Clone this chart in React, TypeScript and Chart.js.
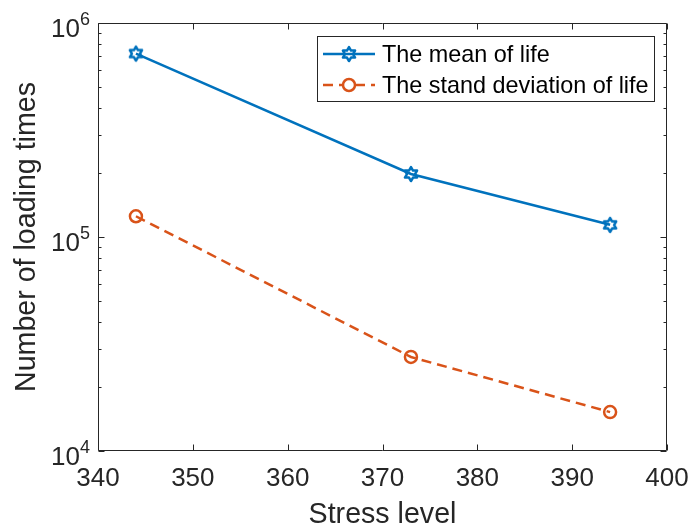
import React, { useEffect, useRef } from "react";
import { Chart, registerables } from "chart.js";

Chart.register(...registerables);

const X_VALUES = [344, 373, 394];
const MEAN_LIFE = [7.2e5, 1.97e5, 1.14e5];
const STD_LIFE = [1.25e5, 2.75e4, 1.52e4];
const SERIES_LABELS = ["The mean of life", "The stand deviation of life"];
const X_TICKS = [340, 350, 360, 370, 380, 390, 400];
const Y_MAJOR = [1e4, 1e5, 1e6];
const Y_EXPONENTS = ["4", "5", "6"];
const X_TITLE = "Stress level";
const Y_TITLE = "Number of loading times";

const BLUE = "#0072BD";
const ORANGE = "#D95319";
const AXIS = "#262626";
const FONT = '"Liberation Sans", Arial, Helvetica, sans-serif';
const DASH = [10, 6];
const LW = 2.5;

function drawHexagram(ctx: CanvasRenderingContext2D, cx: number, cy: number, r: number, color: string) {
  const ri = r / Math.sqrt(3);
  ctx.save();
  ctx.beginPath();
  for (let i = 0; i < 12; i++) {
    const a = -Math.PI / 2 + (i * Math.PI) / 6;
    const rr = i % 2 === 0 ? r : ri;
    const px = cx + rr * Math.cos(a);
    const py = cy + rr * Math.sin(a);
    if (i === 0) ctx.moveTo(px, py);
    else ctx.lineTo(px, py);
  }
  ctx.closePath();
  ctx.strokeStyle = color;
  ctx.lineWidth = 2.5;
  ctx.lineJoin = "round";
  ctx.setLineDash([]);
  ctx.stroke();
  ctx.restore();
}

function makeHexagramImage(): HTMLCanvasElement {
  const c = document.createElement("canvas");
  c.width = 22;
  c.height = 22;
  const ctx = c.getContext("2d")!;
  drawHexagram(ctx, 11, 11, 7, BLUE);
  return c;
}

const decorPlugin = {
  id: "matlabDecor",
  afterDraw(chart: any) {
    const ctx: CanvasRenderingContext2D = chart.ctx;
    const { left, right, top, bottom } = chart.chartArea;
    const xs = chart.scales.x;
    const ys = chart.scales.y;
    ctx.save();
    ctx.setLineDash([]);
    ctx.strokeStyle = AXIS;
    ctx.lineWidth = 1;
    const L = Math.round(left) + 0.5;
    const R = Math.round(right) - 0.5;
    const T = Math.round(top) + 0.5;
    const B = Math.round(bottom) - 0.5;
    // frame
    ctx.beginPath();
    ctx.rect(L, T, R - L, B - T);
    ctx.stroke();
    // x ticks
    ctx.beginPath();
    for (const v of X_TICKS) {
      const px = Math.round(xs.getPixelForValue(v)) + 0.5;
      ctx.moveTo(px, B);
      ctx.lineTo(px, B - 6);
      ctx.moveTo(px, T);
      ctx.lineTo(px, T + 6);
    }
    // y ticks (major + minor)
    for (let d = 0; d < Y_MAJOR.length; d++) {
      const base = Y_MAJOR[d];
      const py = Math.round(ys.getPixelForValue(base)) + 0.5;
      ctx.moveTo(L, py);
      ctx.lineTo(L + 6, py);
      ctx.moveTo(R, py);
      ctx.lineTo(R - 6, py);
      if (d < Y_MAJOR.length - 1) {
        for (let m = 2; m <= 9; m++) {
          const my = Math.round(ys.getPixelForValue(base * m)) + 0.5;
          ctx.moveTo(L, my);
          ctx.lineTo(L + 3, my);
          ctx.moveTo(R, my);
          ctx.lineTo(R - 3, my);
        }
      }
    }
    ctx.stroke();

    // x tick labels
    ctx.fillStyle = AXIS;
    ctx.font = `26px ${FONT}`;
    ctx.textAlign = "center";
    ctx.textBaseline = "alphabetic";
    for (const v of X_TICKS) {
      ctx.fillText(String(v), xs.getPixelForValue(v), bottom + 35);
    }
    // y tick labels 10^n
    for (let d = 0; d < Y_MAJOR.length; d++) {
      const py = ys.getPixelForValue(Y_MAJOR[d]);
      ctx.font = `18px ${FONT}`;
      const ew = ctx.measureText(Y_EXPONENTS[d]).width;
      ctx.textAlign = "left";
      const expX = left - 8 - ew;
      ctx.fillText(Y_EXPONENTS[d], expX, py + 2);
      ctx.font = `26px ${FONT}`;
      ctx.textAlign = "right";
      ctx.fillText("10", expX, py + 14);
    }
    // axis titles
    ctx.font = `28.6px ${FONT}`;
    ctx.textAlign = "center";
    ctx.fillText(X_TITLE, (left + right) / 2, bottom + 72);
    ctx.save();
    ctx.translate(35, (top + bottom) / 2);
    ctx.rotate(-Math.PI / 2);
    ctx.fillText(Y_TITLE, 0, 0);
    ctx.restore();

    // legend
    const bx = 317.5, by = 36.5, bw = 337, bh = 65;
    ctx.fillStyle = "#ffffff";
    ctx.fillRect(bx, by, bw, bh);
    ctx.strokeStyle = AXIS;
    ctx.lineWidth = 1;
    ctx.strokeRect(bx, by, bw, bh);
    const rows = [54, 85];
    // row 1
    ctx.strokeStyle = BLUE;
    ctx.lineWidth = LW;
    ctx.beginPath();
    ctx.moveTo(323, rows[0]);
    ctx.lineTo(375, rows[0]);
    ctx.stroke();
    drawHexagram(ctx, 349, rows[0], 7, BLUE);
    // row 2
    ctx.strokeStyle = ORANGE;
    ctx.lineWidth = LW;
    ctx.setLineDash(DASH);
    ctx.beginPath();
    ctx.moveTo(323, rows[1]);
    ctx.lineTo(375, rows[1]);
    ctx.stroke();
    ctx.setLineDash([]);
    ctx.beginPath();
    ctx.arc(349, rows[1], 6, 0, Math.PI * 2);
    ctx.fillStyle = "#ffffff";
    ctx.fill();
    ctx.stroke();
    ctx.fillStyle = "#000000";
    ctx.font = `23.4px ${FONT}`;
    ctx.textAlign = "left";
    ctx.textBaseline = "alphabetic";
    ctx.fillText(SERIES_LABELS[0], 382, rows[0] + 8);
    ctx.fillText(SERIES_LABELS[1], 382, rows[1] + 8);
    ctx.restore();
  },
};

export default function App() {
  const canvasRef = useRef<HTMLCanvasElement | null>(null);

  useEffect(() => {
    document.body.style.margin = "0";
    document.body.style.overflow = "hidden";
    const canvas = canvasRef.current!;
    const hex = makeHexagramImage();
    const chart = new Chart(canvas, {
      type: "line",
      data: {
        datasets: [
          {
            label: SERIES_LABELS[0],
            data: X_VALUES.map((x, i) => ({ x, y: MEAN_LIFE[i] })),
            borderColor: BLUE,
            backgroundColor: BLUE,
            borderWidth: LW,
            pointStyle: hex as any,
            pointRadius: 8,
            tension: 0,
          },
          {
            label: SERIES_LABELS[1],
            data: X_VALUES.map((x, i) => ({ x, y: STD_LIFE[i] })),
            borderColor: ORANGE,
            backgroundColor: "rgba(0,0,0,0)",
            borderWidth: LW,
            borderDash: DASH,
            pointStyle: "circle",
            pointRadius: 6,
            pointBorderWidth: 2.5,
            pointBorderColor: ORANGE,
            pointBackgroundColor: "rgba(0,0,0,0)",
            tension: 0,
          },
        ],
      },
      options: {
        responsive: false,
        animation: false,
        layout: { padding: { left: 98, top: 23, right: 22, bottom: 79 } },
        plugins: { legend: { display: false }, tooltip: { enabled: false } },
        scales: {
          x: { type: "linear", min: 340, max: 400, display: false },
          y: { type: "logarithmic", min: 1e4, max: 1e6, display: false },
        },
      },
      plugins: [decorPlugin],
    });
    return () => chart.destroy();
  }, []);

  return (
    <div style={{ width: 689, height: 530, background: "#fff" }}>
      <canvas ref={canvasRef} width={689} height={530} style={{ display: "block" }} />
    </div>
  );
}
